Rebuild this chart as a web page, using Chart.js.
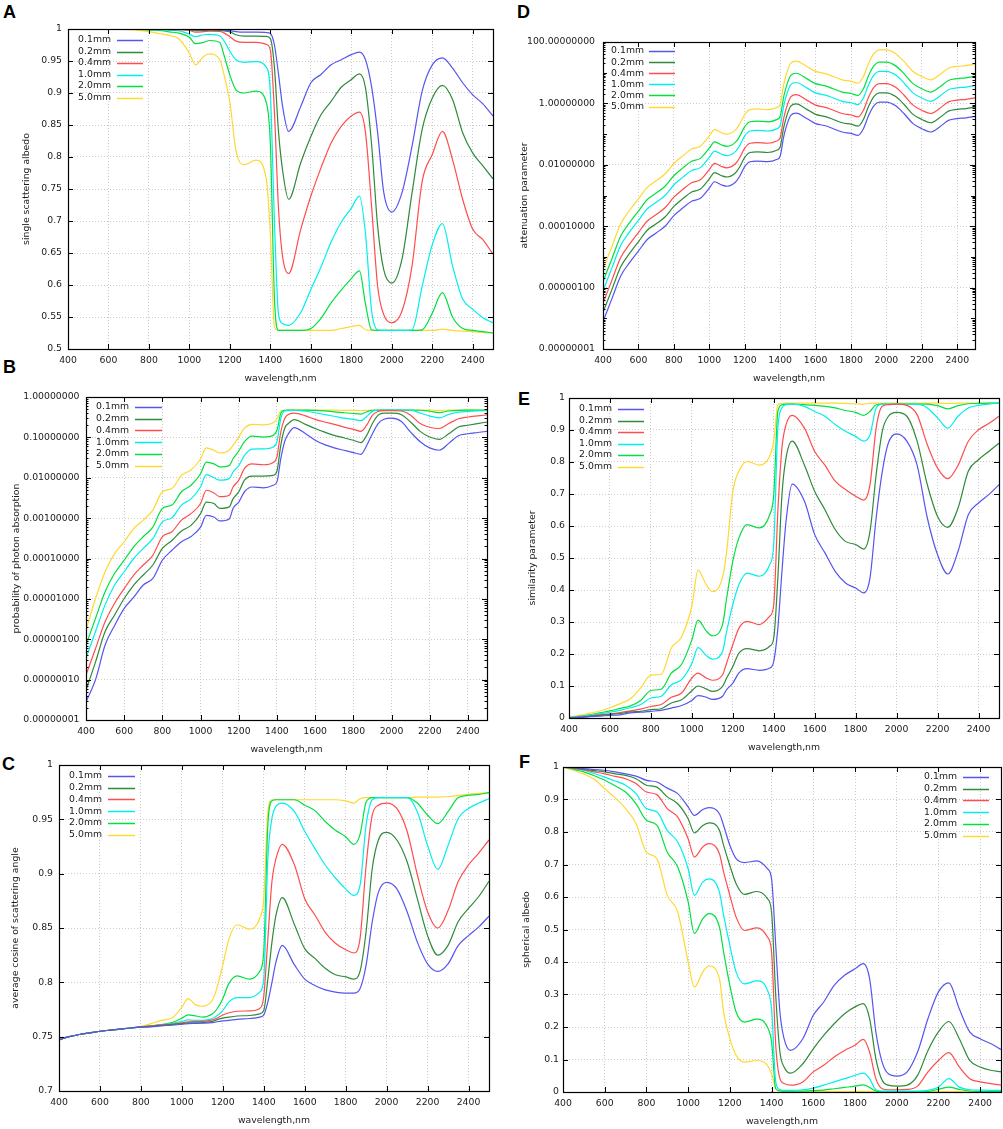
<!DOCTYPE html>
<html><head><meta charset="utf-8">
<script src="https://cdn.jsdelivr.net/npm/chart.js@4.4.1/dist/chart.umd.min.js"></script>
<style>
html,body{margin:0;padding:0;background:#fff;}
body{width:1003px;height:1129px;position:relative;overflow:hidden;}
canvas{position:absolute;}
.lbl{position:absolute;font:bold 18px "Liberation Sans",Arial,sans-serif;line-height:18px;color:#000;}
</style></head><body>
<div class="lbl" style="left:3px;top:3px">A</div>
<div class="lbl" style="left:3px;top:358px">B</div>
<div class="lbl" style="left:2px;top:755px">C</div>
<div class="lbl" style="left:517px;top:3px">D</div>
<div class="lbl" style="left:518px;top:390px">E</div>
<div class="lbl" style="left:519px;top:753px">F</div>
<canvas id="cA" width="498" height="389" style="left:0px;top:0px"></canvas>
<canvas id="cB" width="492" height="371" style="left:0px;top:389px"></canvas>
<canvas id="cC" width="494" height="381" style="left:0px;top:750px"></canvas>
<canvas id="cD" width="480" height="389" style="left:500px;top:0px"></canvas>
<canvas id="cE" width="503" height="373" style="left:500px;top:385px"></canvas>
<canvas id="cF" width="503" height="382" style="left:500px;top:750px"></canvas>
<script>
// ---------- data ----------
const seriesLabels = ['0.1mm','0.2mm','0.4mm','1.0mm','2.0mm','5.0mm'];
const wavelength = [400,450,500,550,600,650,700,750,800,850,
  900,950,1000,1030,1070,1100,1150,1170,1200,1230,
  1270,1330,1380,1400,1420,1440,1460,1490,1550,1600,
  1650,1700,1750,1800,1840,1870,1900,1930,1960,2000,
  2050,2100,2150,2200,2250,2300,2350,2400,2450,2500];
const xTicks = [400,600,800,1000,1200,1400,1600,1800,2000,2200,2400];
const yTicksA = [0.5,0.55,0.6,0.65,0.7,0.75,0.8,0.85,0.9,0.95,1];
const yTicksB = [1e-8,1e-7,1e-6,1e-5,1e-4,1e-3,1e-2,1e-1,1];
const yTicksC = [0.7,0.75,0.8,0.85,0.9,0.95,1];
const yTicksD = [1e-8,1e-6,1e-4,1e-2,1,100];
const yTicksEF = [0,0.1,0.2,0.3,0.4,0.5,0.6,0.7,0.8,0.9,1];

// A: single scattering albedo
const albedo01 = [1,1,1,1,1,1,1,1,0.9999,0.9998,
  0.9997,0.9996,0.9994,0.9988,0.9989,0.9992,0.999,0.9983,0.9975,0.9958,
  0.995,0.995,0.9945,0.993,0.975,0.93,0.88,0.84,0.879,0.916,
  0.929,0.944,0.952,0.96,0.964,0.952,0.91,0.838,0.745,0.714,
  0.744,0.817,0.903,0.944,0.955,0.939,0.916,0.897,0.883,0.864];
const albedo02 = [1,1,1,1,1,1,1,0.9999,0.9998,0.9997,
  0.9995,0.9993,0.9987,0.9975,0.9977,0.9983,0.998,0.997,0.9955,0.991,
  0.989,0.989,0.9885,0.985,0.94,0.84,0.78,0.734,0.791,0.832,
  0.866,0.887,0.909,0.921,0.93,0.908,0.82,0.692,0.624,0.603,
  0.64,0.744,0.843,0.892,0.912,0.89,0.838,0.806,0.786,0.766];
const albedo04 = [1,1,1,1,1,1,0.9999,0.9999,0.9997,0.9995,
  0.9991,0.9987,0.9977,0.995,0.9958,0.9966,0.9963,0.994,0.988,0.981,
  0.979,0.979,0.976,0.967,0.87,0.72,0.645,0.618,0.687,0.739,
  0.783,0.822,0.848,0.864,0.87,0.838,0.723,0.598,0.554,0.541,
  0.559,0.63,0.762,0.804,0.84,0.796,0.734,0.687,0.671,0.648];
const albedo10 = [1,1,1,1,1,0.9999,0.9998,0.9997,0.9992,0.999,
  0.998,0.997,0.992,0.988,0.991,0.9915,0.989,0.982,0.965,0.952,
  0.948,0.949,0.94,0.9,0.7,0.555,0.54,0.537,0.557,0.593,
  0.628,0.667,0.698,0.72,0.739,0.68,0.56,0.53,0.529,0.529,
  0.529,0.53,0.598,0.663,0.696,0.63,0.578,0.562,0.549,0.541];
const albedo20 = [1,1,1,1,0.9999,0.9998,0.9997,0.9994,0.9983,0.998,
  0.9955,0.9935,0.987,0.977,0.979,0.982,0.979,0.96,0.928,0.905,
  0.9,0.903,0.885,0.82,0.58,0.529,0.529,0.529,0.529,0.532,
  0.548,0.572,0.592,0.61,0.622,0.57,0.53,0.529,0.529,0.529,
  0.529,0.529,0.53,0.556,0.588,0.55,0.532,0.529,0.527,0.525];
const albedo50 = [1,1,0.9999,0.9998,0.9997,0.9994,0.999,0.998,0.996,0.993,
  0.99,0.984,0.962,0.944,0.957,0.961,0.952,0.93,0.885,0.81,
  0.788,0.795,0.765,0.68,0.535,0.529,0.529,0.529,0.529,0.529,
  0.529,0.529,0.532,0.535,0.537,0.53,0.529,0.529,0.529,0.529,
  0.529,0.529,0.529,0.529,0.531,0.529,0.528,0.527,0.526,0.525];

// B: probability of photon absorption
const absorb01 = [2.8e-8,1.0e-7,7.2e-7,2.2e-6,5.8e-6,1.1e-5,2.2e-5,3.2e-5,9.1e-5,1.6e-4,
  2.6e-4,3.5e-4,6.0e-4,1.17e-3,1.07e-3,8.5e-4,9.5e-4,1.74e-3,2.5e-3,4.5e-3,
  5.9e-3,5.6e-3,6.5e-3,7.9e-3,2.95e-2,7.8e-2,0.123,0.174,0.123,0.085,
  0.066,0.055,0.048,0.042,0.038,0.063,0.123,0.22,0.28,0.30,
  0.25,0.135,0.078,0.055,0.048,0.071,0.11,0.123,0.132,0.141];
const absorb02 = [5.5e-8,2.75e-7,1.55e-6,4.0e-6,1.02e-5,2.2e-5,3.9e-5,6.9e-5,1.78e-4,2.8e-4,
  4.8e-4,6.6e-4,1.29e-3,2.5e-3,2.3e-3,1.74e-3,1.9e-3,3.0e-3,4.5e-3,8.7e-3,
  1.1e-2,1.1e-2,1.15e-2,1.45e-2,6.3e-2,0.166,0.22,0.275,0.21,0.166,
  0.135,0.112,0.098,0.085,0.074,0.112,0.22,0.355,0.40,0.40,
  0.37,0.24,0.141,0.102,0.089,0.123,0.18,0.20,0.22,0.24];
const absorb04 = [1.3e-7,5.9e-7,2.7e-6,7.8e-6,1.8e-5,3.9e-5,6.9e-5,1.2e-4,3.5e-4,4.6e-4,
  8.9e-4,1.29e-3,2.3e-3,4.9e-3,4.2e-3,3.4e-3,3.7e-3,5.9e-3,8.7e-3,1.7e-2,
  2.2e-2,2.1e-2,2.4e-2,3.3e-2,0.135,0.29,0.37,0.40,0.34,0.28,
  0.24,0.21,0.18,0.158,0.141,0.20,0.355,0.44,0.46,0.46,
  0.45,0.355,0.22,0.178,0.166,0.22,0.29,0.32,0.34,0.36];
const absorb10 = [3.4e-7,1.55e-6,7.1e-6,2.2e-5,4.7e-5,1.0e-4,1.78e-4,3.1e-4,8.1e-4,1.02e-3,
  2.1e-3,3.0e-3,5.9e-3,1.2e-2,1.0e-2,8.7e-3,9.5e-3,1.38e-2,2.0e-2,3.6e-2,
  5.1e-2,5.2e-2,5.8e-2,7.8e-2,0.29,0.45,0.46,0.463,0.443,0.407,
  0.365,0.333,0.30,0.28,0.261,0.33,0.44,0.47,0.471,0.471,
  0.471,0.47,0.402,0.337,0.304,0.37,0.422,0.438,0.451,0.459];
const absorb20 = [7.2e-7,3.3e-6,1.5e-5,4.3e-5,9.1e-5,1.95e-4,3.5e-4,6.0e-4,1.74e-3,2.1e-3,
  4.5e-3,6.5e-3,1.26e-2,2.45e-2,2.2e-2,1.86e-2,2.0e-2,2.95e-2,4.6e-2,7.8e-2,
  0.107,0.102,0.112,0.15,0.39,0.47,0.471,0.471,0.471,0.468,
  0.452,0.428,0.408,0.39,0.378,0.43,0.47,0.471,0.471,0.471,
  0.471,0.471,0.47,0.444,0.412,0.45,0.468,0.471,0.473,0.475];
const absorb50 = [1.7e-6,1.02e-5,4.7e-5,1.32e-4,2.6e-4,5.5e-4,8.9e-4,1.58e-3,4.5e-3,5.4e-3,
  1.15e-2,1.55e-2,2.95e-2,5.5e-2,4.8e-2,4.1e-2,4.8e-2,6.3e-2,0.102,0.17,
  0.21,0.205,0.23,0.29,0.45,0.47,0.471,0.471,0.471,0.471,
  0.471,0.471,0.468,0.465,0.463,0.47,0.471,0.471,0.471,0.471,
  0.471,0.471,0.471,0.471,0.469,0.471,0.472,0.473,0.474,0.475];

// C: average cosine of scattering angle
const cosine01 = [0.747,0.75,0.752,0.7535,0.755,0.756,0.757,0.758,0.7587,0.759,
  0.76,0.7605,0.7614,0.762,0.7622,0.7624,0.763,0.7637,0.7645,0.765,
  0.766,0.7667,0.768,0.77,0.782,0.8,0.819,0.834,0.816,0.803,
  0.797,0.793,0.791,0.79,0.79,0.794,0.816,0.856,0.883,0.892,
  0.886,0.865,0.837,0.817,0.81,0.817,0.834,0.843,0.851,0.861];
const cosine02 = [0.747,0.75,0.752,0.7535,0.755,0.756,0.757,0.758,0.7588,0.7595,
  0.7605,0.7612,0.762,0.7627,0.7628,0.763,0.764,0.7655,0.767,0.768,
  0.769,0.7695,0.771,0.774,0.803,0.837,0.862,0.878,0.853,0.831,
  0.822,0.813,0.807,0.805,0.803,0.81,0.847,0.905,0.931,0.938,
  0.931,0.911,0.877,0.843,0.825,0.834,0.856,0.868,0.879,0.893];
const cosine04 = [0.747,0.75,0.752,0.7535,0.755,0.756,0.757,0.758,0.759,0.76,
  0.7608,0.7615,0.7627,0.7636,0.7638,0.764,0.7654,0.767,0.77,0.772,
  0.7734,0.7737,0.776,0.787,0.84,0.893,0.914,0.927,0.908,0.877,
  0.862,0.846,0.836,0.83,0.827,0.84,0.908,0.954,0.963,0.965,
  0.96,0.939,0.899,0.865,0.85,0.866,0.893,0.908,0.919,0.931];
const cosine10 = [0.747,0.75,0.752,0.7535,0.755,0.756,0.757,0.758,0.759,0.7598,
  0.761,0.762,0.764,0.7655,0.765,0.765,0.7667,0.769,0.774,0.782,
  0.786,0.786,0.791,0.803,0.914,0.951,0.962,0.965,0.957,0.939,
  0.923,0.908,0.896,0.886,0.88,0.889,0.945,0.968,0.97,0.97,
  0.97,0.97,0.957,0.926,0.904,0.926,0.951,0.96,0.965,0.969];
const cosine20 = [0.747,0.75,0.752,0.7535,0.755,0.756,0.757,0.758,0.759,0.76,
  0.761,0.763,0.767,0.77,0.769,0.768,0.771,0.775,0.785,0.799,
  0.806,0.803,0.81,0.828,0.945,0.967,0.968,0.968,0.968,0.963,
  0.958,0.948,0.94,0.934,0.927,0.936,0.966,0.97,0.97,0.97,
  0.97,0.97,0.965,0.954,0.946,0.957,0.97,0.972,0.973,0.9745];
const cosine50 = [0.747,0.75,0.752,0.7535,0.755,0.756,0.757,0.758,0.7595,0.762,
  0.765,0.767,0.777,0.785,0.779,0.778,0.784,0.794,0.816,0.84,
  0.853,0.849,0.859,0.877,0.957,0.968,0.968,0.968,0.968,0.968,
  0.968,0.968,0.968,0.967,0.965,0.969,0.97,0.97,0.97,0.97,
  0.97,0.97,0.9705,0.9705,0.9705,0.971,0.972,0.973,0.974,0.9745];

// D: attenuation parameter
const atten01 = [7.8e-8,4.3e-7,2.4e-6,6.5e-6,1.55e-5,3.7e-5,6.0e-5,1.0e-4,2.2e-4,3.9e-4,
  6.5e-4,8.1e-4,1.74e-3,2.8e-3,2.2e-3,2.0e-3,2.8e-3,4.1e-3,8.7e-3,1.26e-2,
  1.32e-2,1.26e-2,1.48e-2,1.9e-2,8.1e-2,0.22,0.41,0.48,0.32,0.22,
  0.19,0.15,0.117,0.105,0.091,0.15,0.41,0.85,1.1,1.1,
  0.85,0.46,0.22,0.15,0.117,0.17,0.28,0.32,0.34,0.38];
const atten02 = [1.56e-7,8.6e-7,4.8e-6,1.3e-5,3.1e-5,7.4e-5,1.2e-4,2.0e-4,4.4e-4,7.8e-4,
  1.3e-3,1.62e-3,3.48e-3,5.6e-3,4.4e-3,4.0e-3,5.6e-3,8.2e-3,1.74e-2,2.52e-2,
  2.64e-2,2.52e-2,2.96e-2,3.8e-2,0.162,0.44,0.82,0.96,0.64,0.44,
  0.38,0.30,0.234,0.21,0.182,0.30,0.82,1.7,2.2,2.2,
  1.7,0.92,0.44,0.30,0.234,0.34,0.56,0.64,0.68,0.76];
const atten04 = [3.1e-7,1.72e-6,9.6e-6,2.6e-5,6.2e-5,1.48e-4,2.4e-4,4.0e-4,8.8e-4,1.56e-3,
  2.6e-3,3.24e-3,6.96e-3,1.12e-2,8.8e-3,8.0e-3,1.12e-2,1.64e-2,3.48e-2,5.04e-2,
  5.28e-2,5.04e-2,5.92e-2,7.6e-2,0.324,0.88,1.64,1.92,1.28,0.88,
  0.76,0.60,0.468,0.42,0.364,0.60,1.64,3.4,4.4,4.4,
  3.4,1.84,0.88,0.60,0.468,0.68,1.12,1.28,1.36,1.52];
const atten10 = [7.8e-7,4.3e-6,2.4e-5,6.5e-5,1.55e-4,3.7e-4,6.0e-4,1.0e-3,2.2e-3,3.9e-3,
  6.5e-3,8.1e-3,1.74e-2,2.8e-2,2.2e-2,2.0e-2,2.8e-2,4.1e-2,8.7e-2,0.126,
  0.132,0.126,0.148,0.19,0.81,2.2,4.1,4.8,3.2,2.2,
  1.9,1.5,1.17,1.05,0.91,1.5,4.1,8.5,11,11,
  8.5,4.6,2.2,1.5,1.17,1.7,2.8,3.2,3.4,3.8];
const atten20 = [1.56e-6,8.6e-6,4.8e-5,1.3e-4,3.1e-4,7.4e-4,1.2e-3,2.0e-3,4.4e-3,7.8e-3,
  1.3e-2,1.62e-2,3.48e-2,5.6e-2,4.4e-2,4.0e-2,5.6e-2,8.2e-2,0.174,0.252,
  0.264,0.252,0.296,0.38,1.62,4.4,8.2,9.6,6.4,4.4,
  3.8,3.0,2.34,2.1,1.82,3.0,8.2,17,22,22,
  17,9.2,4.4,3.0,2.34,3.4,5.6,6.4,6.8,7.6];
const atten50 = [3.9e-6,2.15e-5,1.2e-4,3.25e-4,7.75e-4,1.85e-3,3.0e-3,5.0e-3,1.1e-2,1.95e-2,
  3.25e-2,4.05e-2,8.7e-2,0.14,0.11,0.10,0.14,0.205,0.435,0.63,
  0.66,0.63,0.74,0.95,4.05,11,20.5,24,16,11,
  9.5,7.5,5.85,5.25,4.55,7.5,20.5,42.5,55,55,
  42.5,23,11,7.5,5.85,8.5,14,16,17,19];

// E: similarity parameter
const simil01 = [0,0.002,0.004,0.006,0.008,0.01,0.016,0.018,0.021,0.024,
  0.031,0.039,0.055,0.07,0.065,0.058,0.068,0.089,0.109,0.141,
  0.154,0.149,0.156,0.177,0.281,0.458,0.615,0.731,0.677,0.573,
  0.516,0.458,0.422,0.406,0.391,0.438,0.625,0.77,0.86,0.888,
  0.865,0.79,0.625,0.51,0.45,0.521,0.635,0.672,0.698,0.729];
const simil02 = [0,0.002,0.005,0.008,0.011,0.014,0.019,0.021,0.026,0.029,
  0.047,0.057,0.085,0.1,0.091,0.083,0.099,0.125,0.161,0.203,
  0.217,0.21,0.224,0.25,0.438,0.698,0.813,0.865,0.79,0.708,
  0.651,0.589,0.552,0.542,0.528,0.583,0.76,0.896,0.943,0.955,
  0.943,0.865,0.729,0.63,0.596,0.656,0.771,0.807,0.833,0.859];
const simil04 = [0,0.003,0.006,0.01,0.013,0.017,0.022,0.028,0.036,0.042,
  0.065,0.078,0.125,0.14,0.125,0.118,0.135,0.172,0.229,0.281,
  0.302,0.292,0.318,0.354,0.646,0.844,0.917,0.946,0.906,0.833,
  0.79,0.74,0.714,0.693,0.681,0.729,0.906,0.974,0.979,0.981,
  0.977,0.948,0.854,0.781,0.748,0.79,0.865,0.901,0.92,0.943];
const simil10 = [0.001,0.004,0.008,0.013,0.018,0.024,0.032,0.042,0.0625,0.068,
  0.104,0.12,0.17,0.22,0.195,0.184,0.208,0.271,0.354,0.417,
  0.453,0.443,0.479,0.542,0.906,0.969,0.979,0.981,0.974,0.958,
  0.943,0.917,0.896,0.88,0.865,0.885,0.969,0.981,0.981,0.981,
  0.981,0.981,0.969,0.938,0.906,0.943,0.969,0.977,0.981,0.984];
const simil20 = [0.002,0.005,0.01,0.016,0.022,0.03,0.038,0.055,0.086,0.09,
  0.14,0.168,0.244,0.306,0.272,0.257,0.292,0.375,0.49,0.563,
  0.604,0.594,0.635,0.698,0.958,0.979,0.981,0.981,0.979,0.977,
  0.974,0.969,0.961,0.955,0.946,0.958,0.979,0.981,0.981,0.981,
  0.981,0.981,0.981,0.976,0.966,0.976,0.982,0.983,0.984,0.984];
const simil50 = [0.003,0.008,0.015,0.022,0.032,0.045,0.06,0.094,0.134,0.136,
  0.219,0.254,0.35,0.462,0.417,0.395,0.44,0.52,0.708,0.771,
  0.802,0.79,0.818,0.865,0.979,0.983,0.984,0.984,0.984,0.984,
  0.984,0.984,0.983,0.982,0.981,0.983,0.984,0.984,0.984,0.984,
  0.984,0.984,0.984,0.984,0.983,0.984,0.984,0.984,0.984,0.985];

// F: spherical albedo
const sphal01 = [1,0.998,0.995,0.992,0.99,0.985,0.979,0.972,0.959,0.954,
  0.935,0.918,0.877,0.851,0.869,0.875,0.856,0.82,0.759,0.718,
  0.706,0.711,0.687,0.656,0.451,0.246,0.164,0.128,0.164,0.236,
  0.277,0.328,0.359,0.379,0.395,0.349,0.185,0.092,0.056,0.049,
  0.062,0.123,0.226,0.308,0.336,0.256,0.185,0.164,0.149,0.131];
const sphal02 = [1,0.997,0.993,0.989,0.985,0.979,0.974,0.964,0.944,0.938,
  0.908,0.887,0.841,0.797,0.82,0.828,0.805,0.759,0.697,0.641,
  0.608,0.617,0.595,0.554,0.297,0.123,0.077,0.058,0.087,0.133,
  0.174,0.21,0.241,0.262,0.272,0.226,0.103,0.036,0.021,0.018,
  0.021,0.051,0.128,0.185,0.217,0.164,0.097,0.077,0.067,0.062];
const sphal04 = [1,0.996,0.991,0.985,0.979,0.971,0.964,0.949,0.923,0.915,
  0.872,0.846,0.779,0.723,0.754,0.764,0.733,0.677,0.605,0.538,
  0.497,0.505,0.477,0.431,0.144,0.041,0.026,0.021,0.031,0.062,
  0.082,0.108,0.128,0.144,0.162,0.123,0.041,0.01,0.007,0.007,
  0.008,0.018,0.062,0.097,0.121,0.077,0.041,0.031,0.026,0.021];
const sphal10 = [1,0.996,0.99,0.98,0.969,0.957,0.944,0.918,0.872,0.862,
  0.805,0.769,0.687,0.605,0.646,0.656,0.615,0.544,0.451,0.369,
  0.333,0.342,0.313,0.256,0.031,0.007,0.005,0.005,0.007,0.012,
  0.021,0.031,0.041,0.051,0.058,0.041,0.007,0.003,0.003,0.003,
  0.003,0.003,0.005,0.015,0.041,0.015,0.007,0.006,0.005,0.005];
const sphal20 = [1,0.993,0.985,0.973,0.959,0.942,0.923,0.887,0.836,0.821,
  0.738,0.692,0.585,0.488,0.533,0.549,0.508,0.431,0.328,0.246,
  0.215,0.224,0.2,0.154,0.01,0.004,0.003,0.003,0.003,0.004,
  0.006,0.01,0.014,0.018,0.022,0.014,0.003,0.001,0.001,0.001,
  0.001,0.001,0.002,0.008,0.015,0.008,0.003,0.002,0.001,0.001];
const sphal50 = [1,0.99,0.978,0.962,0.933,0.905,0.872,0.826,0.738,0.718,
  0.605,0.554,0.4,0.323,0.369,0.388,0.349,0.246,0.164,0.113,
  0.092,0.097,0.082,0.056,0.01,0.002,0.001,0.001,0.001,0.001,
  0.001,0.001,0.001,0.002,0.002,0.001,0.001,0.001,0.001,0.001,
  0.001,0.001,0.001,0.001,0.001,0.001,0.001,0.001,0.001,0.001];

// ---------- style ----------
const seriesColors = ['#5555f0','#2e8b3a','#ff4d4d','#00eeee','#00e040','#ffd830'];
const FONT_SIZE = 9.3;
Chart.defaults.font.family = '"DejaVu Sans", sans-serif';
Chart.defaults.font.size = FONT_SIZE;
Chart.defaults.color = '#1a1a1a';

const framePlugin = {
  id: 'frame',
  afterDatasetsDraw(chart, args, opts) {
    const ctx = chart.ctx, a = chart.chartArea;
    const xs = chart.scales.x, ys = chart.scales.y;
    ctx.save();
    ctx.strokeStyle = '#000';
    ctx.lineWidth = 1;
    ctx.beginPath();
    const seg = (x1, y1, x2, y2) => { ctx.moveTo(x1, y1); ctx.lineTo(x2, y2); };
    xs.ticks.forEach(t => {
      const p = Math.round(xs.getPixelForValue(t.value)) + 0.5;
      seg(p, a.bottom, p, a.bottom - 5); seg(p, a.top, p, a.top + 5);
    });
    const yTick = (v, len) => {
      const p = Math.round(ys.getPixelForValue(v)) + 0.5;
      seg(a.left, p, a.left + len, p); seg(a.right, p, a.right - len, p);
    };
    ys.ticks.forEach(t => yTick(t.value, 5));
    if (ys.type === 'logarithmic') {
      const e0 = Math.round(Math.log10(ys.min)), e1 = Math.round(Math.log10(ys.max));
      for (let e = e0; e < e1; e++) for (let m = 1; m < 10; m++) yTick(m * Math.pow(10, e), m === 1 ? 4 : 2.5);
    }
    ctx.stroke();
    ctx.lineWidth = 1.2;
    ctx.strokeRect(a.left + 0.5, a.top + 0.5, a.right - a.left, a.bottom - a.top);
    // legend (gnuplot style: text then line sample)
    const L = opts.key;
    const ox = L.side === 'right' ? a.right : a.left;
    ctx.font = FONT_SIZE + 'px "DejaVu Sans", sans-serif';
    ctx.textAlign = 'right';
    ctx.textBaseline = 'middle';
    chart.data.datasets.forEach((d, i) => {
      const y = a.top + L.y0 + i * L.dy;
      ctx.fillStyle = '#1a1a1a';
      ctx.fillText(d.label, ox + L.tx, y);
      ctx.strokeStyle = d.borderColor;
      ctx.lineWidth = 1.5;
      ctx.beginPath();
      ctx.moveTo(ox + L.l1, Math.round(y) + 0.5);
      ctx.lineTo(ox + L.l2, Math.round(y) + 0.5);
      ctx.stroke();
    });
    ctx.restore();
  }
};

function panel(id, o) {
  const datasets = o.series.map((arr, i) => ({
    label: seriesLabels[i],
    data: wavelength.map((x, k) => ({x: x, y: arr[k]})),
    borderColor: seriesColors[i],
    borderWidth: 1.2,
    pointRadius: 0,
    fill: false,
    cubicInterpolationMode: 'monotone'
  }));
  const isLog = o.yType === 'logarithmic';
  new Chart(document.getElementById(id), {
    type: 'line',
    data: {datasets: datasets},
    options: {
      responsive: false, animation: false, devicePixelRatio: 1,
      layout: {padding: {top: o.padTop, right: o.padRight, left: 0, bottom: 0}},
      plugins: {legend: {display: false}, tooltip: {enabled: false}, frame: {key: o.key}},
      scales: {
        x: {
          type: 'linear', position: 'bottom', min: 400, max: 2500,
          afterBuildTicks: s => { s.ticks = xTicks.map(v => ({value: v})); },
          afterFit: s => { s.height = 40; s.paddingLeft = 0; s.paddingRight = 0; },
          ticks: {padding: 6, autoSkip: false, maxRotation: 0, minRotation: 0, callback: v => String(v)},
          grid: {color: '#cccccc', drawTicks: false, lineWidth: 1},
          border: {display: false, dash: [1, 2]},
          title: {display: true, text: 'wavelength,nm', padding: {top: 0, bottom: 5}}
        },
        y: {
          type: o.yType, position: 'left', min: o.yMin, max: o.yMax,
          afterBuildTicks: s => { s.ticks = o.yTicks.map(v => ({value: v})); },
          afterFit: s => { s.width = o.yw; s.paddingTop = 0; s.paddingBottom = 0; },
          ticks: {padding: o.yLabelPad, autoSkip: false,
            callback: isLog ? (v => Number(v).toFixed(8)) : (v => String(parseFloat(Number(v).toFixed(2))))},
          grid: {color: '#cccccc', drawTicks: false, lineWidth: 1},
          border: {display: false, dash: [1, 2]},
          title: {display: true, text: o.yTitle, padding: {top: o.yTitlePad, bottom: 0}}
        }
      }
    },
    plugins: [framePlugin]
  });
}

panel('cA', {series: [albedo01, albedo02, albedo04, albedo10, albedo20, albedo50],
  yType: 'linear', yMin: 0.5, yMax: 1, yTicks: yTicksA, yTitle: 'single scattering albedo',
  yw: 68, padTop: 29, padRight: 5, yLabelPad: 6, yTitlePad: 21,
  key: {side: 'left', tx: 43, l1: 49, l2: 75, y0: 11, dy: 11.5}});
panel('cB', {series: [absorb01, absorb02, absorb04, absorb10, absorb20, absorb50],
  yType: 'logarithmic', yMin: 1e-8, yMax: 1, yTicks: yTicksB, yTitle: 'probability of photon absorption',
  yw: 86, padTop: 8, padRight: 5, yLabelPad: 6.5, yTitlePad: 11,
  key: {side: 'left', tx: 43, l1: 49, l2: 76, y0: 10, dy: 11.7}});
panel('cC', {series: [cosine01, cosine02, cosine04, cosine10, cosine20, cosine50],
  yType: 'linear', yMin: 0.7, yMax: 1, yTicks: yTicksC, yTitle: 'average cosine of scattering angle',
  yw: 59, padTop: 15, padRight: 5, yLabelPad: 6, yTitlePad: 10,
  key: {side: 'left', tx: 43, l1: 49, l2: 76, y0: 11, dy: 11.7}});
panel('cD', {series: [atten01, atten02, atten04, atten10, atten20, atten50],
  yType: 'logarithmic', yMin: 1e-8, yMax: 100, yTicks: yTicksD, yTitle: 'attenuation parameter',
  yw: 103, padTop: 42, padRight: 5, yLabelPad: 8, yTitlePad: 19,
  key: {side: 'left', tx: 41, l1: 46, l2: 72, y0: 9, dy: 11.1}});
panel('cE', {series: [simil01, simil02, simil04, simil10, simil20, simil50],
  yType: 'linear', yMin: 0, yMax: 1, yTicks: yTicksEF, yTitle: 'similarity parameter',
  yw: 69, padTop: 13, padRight: 4, yLabelPad: 4, yTitlePad: 27,
  key: {side: 'left', tx: 43, l1: 49, l2: 75, y0: 11, dy: 11.5}});
panel('cF', {series: [sphal01, sphal02, sphal04, sphal10, sphal20, sphal50],
  yType: 'linear', yMin: 0, yMax: 1, yTicks: yTicksEF, yTitle: 'spherical albedo',
  yw: 63, padTop: 17, padRight: 2, yLabelPad: 4, yTitlePad: 21,
  key: {side: 'right', tx: -44, l1: -38, l2: -12, y0: 10, dy: 11.7}});
</script>
</body></html>
